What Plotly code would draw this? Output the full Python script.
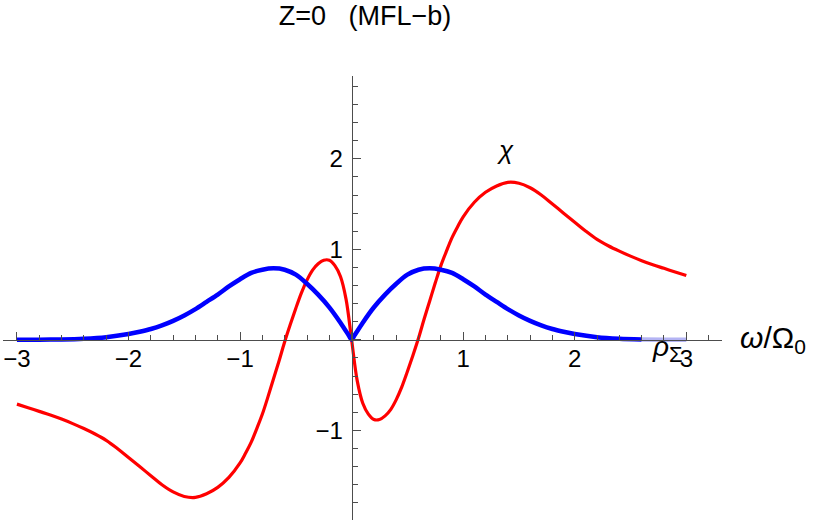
import plotly.graph_objects as go

# ---- data ----
omega_rho = [-3.0, -2.8, -2.6, -2.4, -2.2, -2.0, -1.9, -1.8, -1.7, -1.6, -1.5, -1.4, -1.3,
             -1.2, -1.1, -1.0, -0.9, -0.8, -0.7, -0.6, -0.5, -0.4, -0.3, -0.2, -0.1, -0.02,
             0.0, 0.02, 0.1, 0.2, 0.3, 0.4, 0.5, 0.6, 0.7, 0.8, 0.9, 1.0, 1.1, 1.2, 1.3,
             1.4, 1.5, 1.6, 1.7, 1.8, 1.9, 2.0, 2.2, 2.4, 2.6, 2.8, 3.0]
rho_sigma = [0.001, 0.002, 0.005, 0.013, 0.03, 0.065, 0.09, 0.12, 0.16, 0.21, 0.27, 0.34, 0.42,
             0.50, 0.59, 0.67, 0.74, 0.775, 0.79, 0.775, 0.72, 0.62, 0.50, 0.36, 0.19, 0.038,
             0.0, 0.038, 0.19, 0.36, 0.50, 0.62, 0.72, 0.775, 0.79, 0.775, 0.74, 0.67, 0.59, 0.50, 0.42,
             0.34, 0.27, 0.21, 0.16, 0.12, 0.09, 0.065, 0.03, 0.013, 0.005, 0.002, 0.001]

omega_chi = [-3.0, -2.9, -2.8, -2.7, -2.6, -2.5, -2.4, -2.3, -2.2, -2.1, -2.0, -1.9, -1.8, -1.7,
             -1.6, -1.5, -1.4, -1.3, -1.2, -1.1, -1.0, -0.95, -0.9, -0.85, -0.8, -0.75, -0.7,
             -0.65, -0.6, -0.55, -0.5, -0.45, -0.4, -0.35, -0.3, -0.25, -0.2, -0.15, -0.1, -0.05,
             0.0, 0.05, 0.1, 0.15, 0.2, 0.25, 0.3, 0.35, 0.4, 0.45, 0.5, 0.55, 0.6, 0.65, 0.7,
             0.75, 0.8, 0.85, 0.9, 0.95, 1.0, 1.1, 1.2, 1.3, 1.4, 1.5, 1.6, 1.7, 1.8, 1.9, 2.0,
             2.1, 2.2, 2.3, 2.4, 2.5, 2.6, 2.7, 2.8, 2.9, 3.0]
chi = [-0.71, -0.75, -0.79, -0.83, -0.875, -0.925, -0.98, -1.04, -1.11, -1.20, -1.30, -1.40, -1.50,
       -1.60, -1.68, -1.73, -1.74, -1.70, -1.63, -1.52, -1.36, -1.25, -1.13, -0.98, -0.82, -0.63,
       -0.43, -0.23, -0.02, 0.17, 0.35, 0.52, 0.66, 0.77, 0.84, 0.88, 0.88, 0.82, 0.70, 0.45,
       0.0, -0.45, -0.70, -0.82, -0.88, -0.88, -0.84, -0.77, -0.66, -0.52, -0.35, -0.17, 0.02,
       0.23, 0.43, 0.63, 0.82, 0.98, 1.13, 1.25, 1.36, 1.52, 1.63, 1.70, 1.74, 1.73, 1.68,
       1.60, 1.50, 1.40, 1.30, 1.20, 1.11, 1.04, 0.98, 0.925, 0.875, 0.83, 0.79, 0.75, 0.71]

x_tickvals = [-3, -2, -1, 0, 1, 2, 3]
x_ticktext = ["\u22123", "\u22122", "\u22121", "", "1", "2", "3"]
y_tickvals = [-1, 0, 1, 2]
y_ticktext = ["\u22121", "", "1", "2"]

title_text = "Z=0\u00a0\u00a0\u00a0(MFL\u2212b)"
rho_fade_from = 2.6

# ---- layout geometry ----
XR = [-3.125, 3.32]
YR = [-1.99, 2.915]
FONT = "Liberation Sans, Arial, Helvetica, sans-serif"
AXC = "#4d4d4d"

fig = go.Figure()

fig.add_trace(go.Scatter(x=omega_chi, y=chi, mode="lines",
                         line=dict(color="#ff0000", width=3.2, shape="spline", smoothing=1.0),
                         hoverinfo="skip", showlegend=False))

main_x = [x for x in omega_rho if x <= rho_fade_from]
main_y = [y for x, y in zip(omega_rho, rho_sigma) if x <= rho_fade_from]
tail_x = [x for x in omega_rho if x >= rho_fade_from]
tail_y = [y for x, y in zip(omega_rho, rho_sigma) if x >= rho_fade_from]

fig.add_trace(go.Scatter(x=main_x, y=main_y, mode="lines",
                         line=dict(color="#0000ff", width=4.5, shape="spline", smoothing=0.8),
                         hoverinfo="skip", showlegend=False))
fig.add_trace(go.Scatter(x=tail_x, y=tail_y, mode="lines",
                         line=dict(color="#b4b4f4", width=4.5, shape="spline", smoothing=0.8),
                         hoverinfo="skip", showlegend=False))

xpos = (0 - YR[0]) / (YR[1] - YR[0])
ypos = (0 - XR[0]) / (XR[1] - XR[0])

fig.update_layout(
    width=814, height=523,
    margin=dict(l=3, r=92, t=76, b=3, autoexpand=False),
    paper_bgcolor="white", plot_bgcolor="white",
    font=dict(family=FONT, size=24, color="black"),
    title=dict(text=title_text, x=365 / 814, y=1 - 16 / 523, xref="container", yref="container",
               xanchor="center", yanchor="middle", font=dict(family=FONT, size=27, color="black")),
    xaxis=dict(range=XR, anchor="free", position=xpos, showgrid=False, zeroline=False,
               showline=True, linecolor=AXC, linewidth=1, automargin=False,
               tickmode="array", tickvals=x_tickvals, ticktext=x_ticktext,
               ticks="inside", ticklen=8, tickcolor=AXC, tickwidth=1, ticklabelstandoff=-3,
               tickfont=dict(family=FONT, size=24, color="black"),
               minor=dict(dtick=0.2, tick0=0, ticks="inside", ticklen=5, tickcolor=AXC, tickwidth=1,
                          showgrid=False)),
    yaxis=dict(range=YR, anchor="free", position=ypos, showgrid=False, zeroline=False,
               showline=True, linecolor=AXC, linewidth=1, automargin=False,
               tickmode="array", tickvals=y_tickvals, ticktext=y_ticktext,
               ticks="inside", ticklen=8, tickcolor=AXC, tickwidth=1, ticklabelstandoff=4,
               tickfont=dict(family=FONT, size=24, color="black"),
               minor=dict(dtick=0.2, tick0=0, ticks="inside", ticklen=5, tickcolor=AXC, tickwidth=1,
                          showgrid=False)),
)

fig.add_annotation(x=1.375, y=2.1, xref="x", yref="y", text="<i>\u03c7</i>", showarrow=False,
                   font=dict(family=FONT, size=26, color="black"), xanchor="center", yanchor="middle")
fig.add_annotation(x=2.675, y=-0.1, xref="x", yref="y",
                   text="<i>\u03c1</i><sub><span style=\"font-size:22px\">\u03a3</span></sub>",
                   showarrow=False, font=dict(family=FONT, size=28, color="black"),
                   xanchor="left", yanchor="middle")
fig.add_annotation(x=1.022, y=0, xref="paper", yref="y", text="<i>\u03c9</i>/\u03a9<sub>0</sub>",
                   showarrow=False, font=dict(family=FONT, size=30, color="black"),
                   xanchor="left", yanchor="middle")

fig.write_html("out.html", config={"displayModeBar": False},
               post_script="document.body.style.margin='0';document.body.style.overflow='hidden';")
